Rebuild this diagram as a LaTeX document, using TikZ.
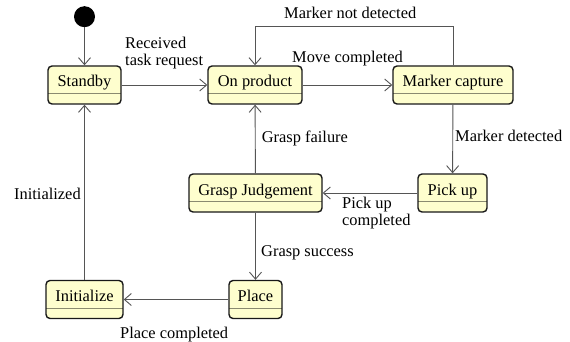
\documentclass[tikz,border=0pt]{standalone}
\usepackage{fontspec}
\newfontfamily\diagfont{LiberationSerif-Regular.ttf}
\usetikzlibrary{arrows.meta}
\definecolor{statefill}{HTML}{FEFECE}
\definecolor{stateline}{HTML}{181818}
\definecolor{edgeline}{HTML}{555555}
\definecolor{sepline}{HTML}{8A8A70}
\tikzset{
  x=1pt, y=-1pt,
  every node/.style={font=\diagfont\fontsize{16.4}{17}\selectfont},
  state/.style={draw=stateline, line width=1.4pt, fill=statefill,
    rounded corners=4pt, inner sep=0pt, text height=12pt, text depth=8pt,
    minimum height=38pt,
    path picture={\draw[sepline, line width=1pt]
      ([yshift=10.5pt]path picture bounding box.south west) --
      ([yshift=10.5pt]path picture bounding box.south east);}},
  edge/.style={draw=edgeline, line width=0.9pt,
    -{Straight Barb[length=7pt,width=12pt,line width=0.9pt]}},
  lbl/.style={anchor=base west, inner sep=0pt},
  lbl2/.style={anchor=north west, inner sep=0pt, align=left}
}
\begin{document}
\begin{tikzpicture}
\useasboundingbox (0,0) rectangle (570,342);
% initial pseudo-state
\node[circle, fill=black, minimum size=21pt, inner sep=0pt] (start) at (84.5,16.7) {};
% states
\node[state, minimum width=73pt]  (standby) at (84.5,85)   {Standby};
\node[state, minimum width=94pt]  (onprod)  at (255,85)    {On product};
\node[state, minimum width=120pt] (marker)  at (453,85)    {Marker capture};
\node[state, minimum width=69pt]  (pickup)  at (452.5,193) {Pick up};
\node[state, minimum width=133pt] (grasp)   at (255.5,193) {Grasp Judgement};
\node[state, minimum width=53pt]  (place)   at (255.5,299.5) {Place};
\node[state, minimum width=77pt]  (init)    at (84.5,299.5)  {Initialize};
\coordinate (loop) at (0,26);
% transitions
\draw[edge] (start) -- (standby);
\draw[edge] (standby) -- (onprod);
\draw[edge] (onprod) -- (marker);
\draw[edge] (marker.north) -- (marker.north |- loop) -| (onprod.north);
\draw[edge] (marker) -- (pickup);
\draw[edge] (pickup) -- (grasp);
\draw[edge] (grasp) -- (onprod);
\draw[edge] (grasp) -- (place);
\draw[edge] (place) -- (init);
\draw[edge] (init) -- (standby);
% transition labels
\node[lbl2] (l1) at (125,36.5) {Received\\task request};
\node[lbl] (l2) at (292,62.7) {Move completed};
\node[lbl] (l3) at (284,18.3) {Marker not detected};
\node[lbl] (l4) at (455,142) {Marker detected};
\node[lbl2] (l5) at (342,197.3) {Pick up\\completed};
\node[lbl] (l6) at (261.7,142.3) {Grasp failure};
\node[lbl] (l7) at (261,256) {Grasp success};
\node[lbl] (l8) at (120,338) {Place completed};
\node[lbl] (l9) at (14,199) {Initialized};
\end{tikzpicture}
\end{document}
